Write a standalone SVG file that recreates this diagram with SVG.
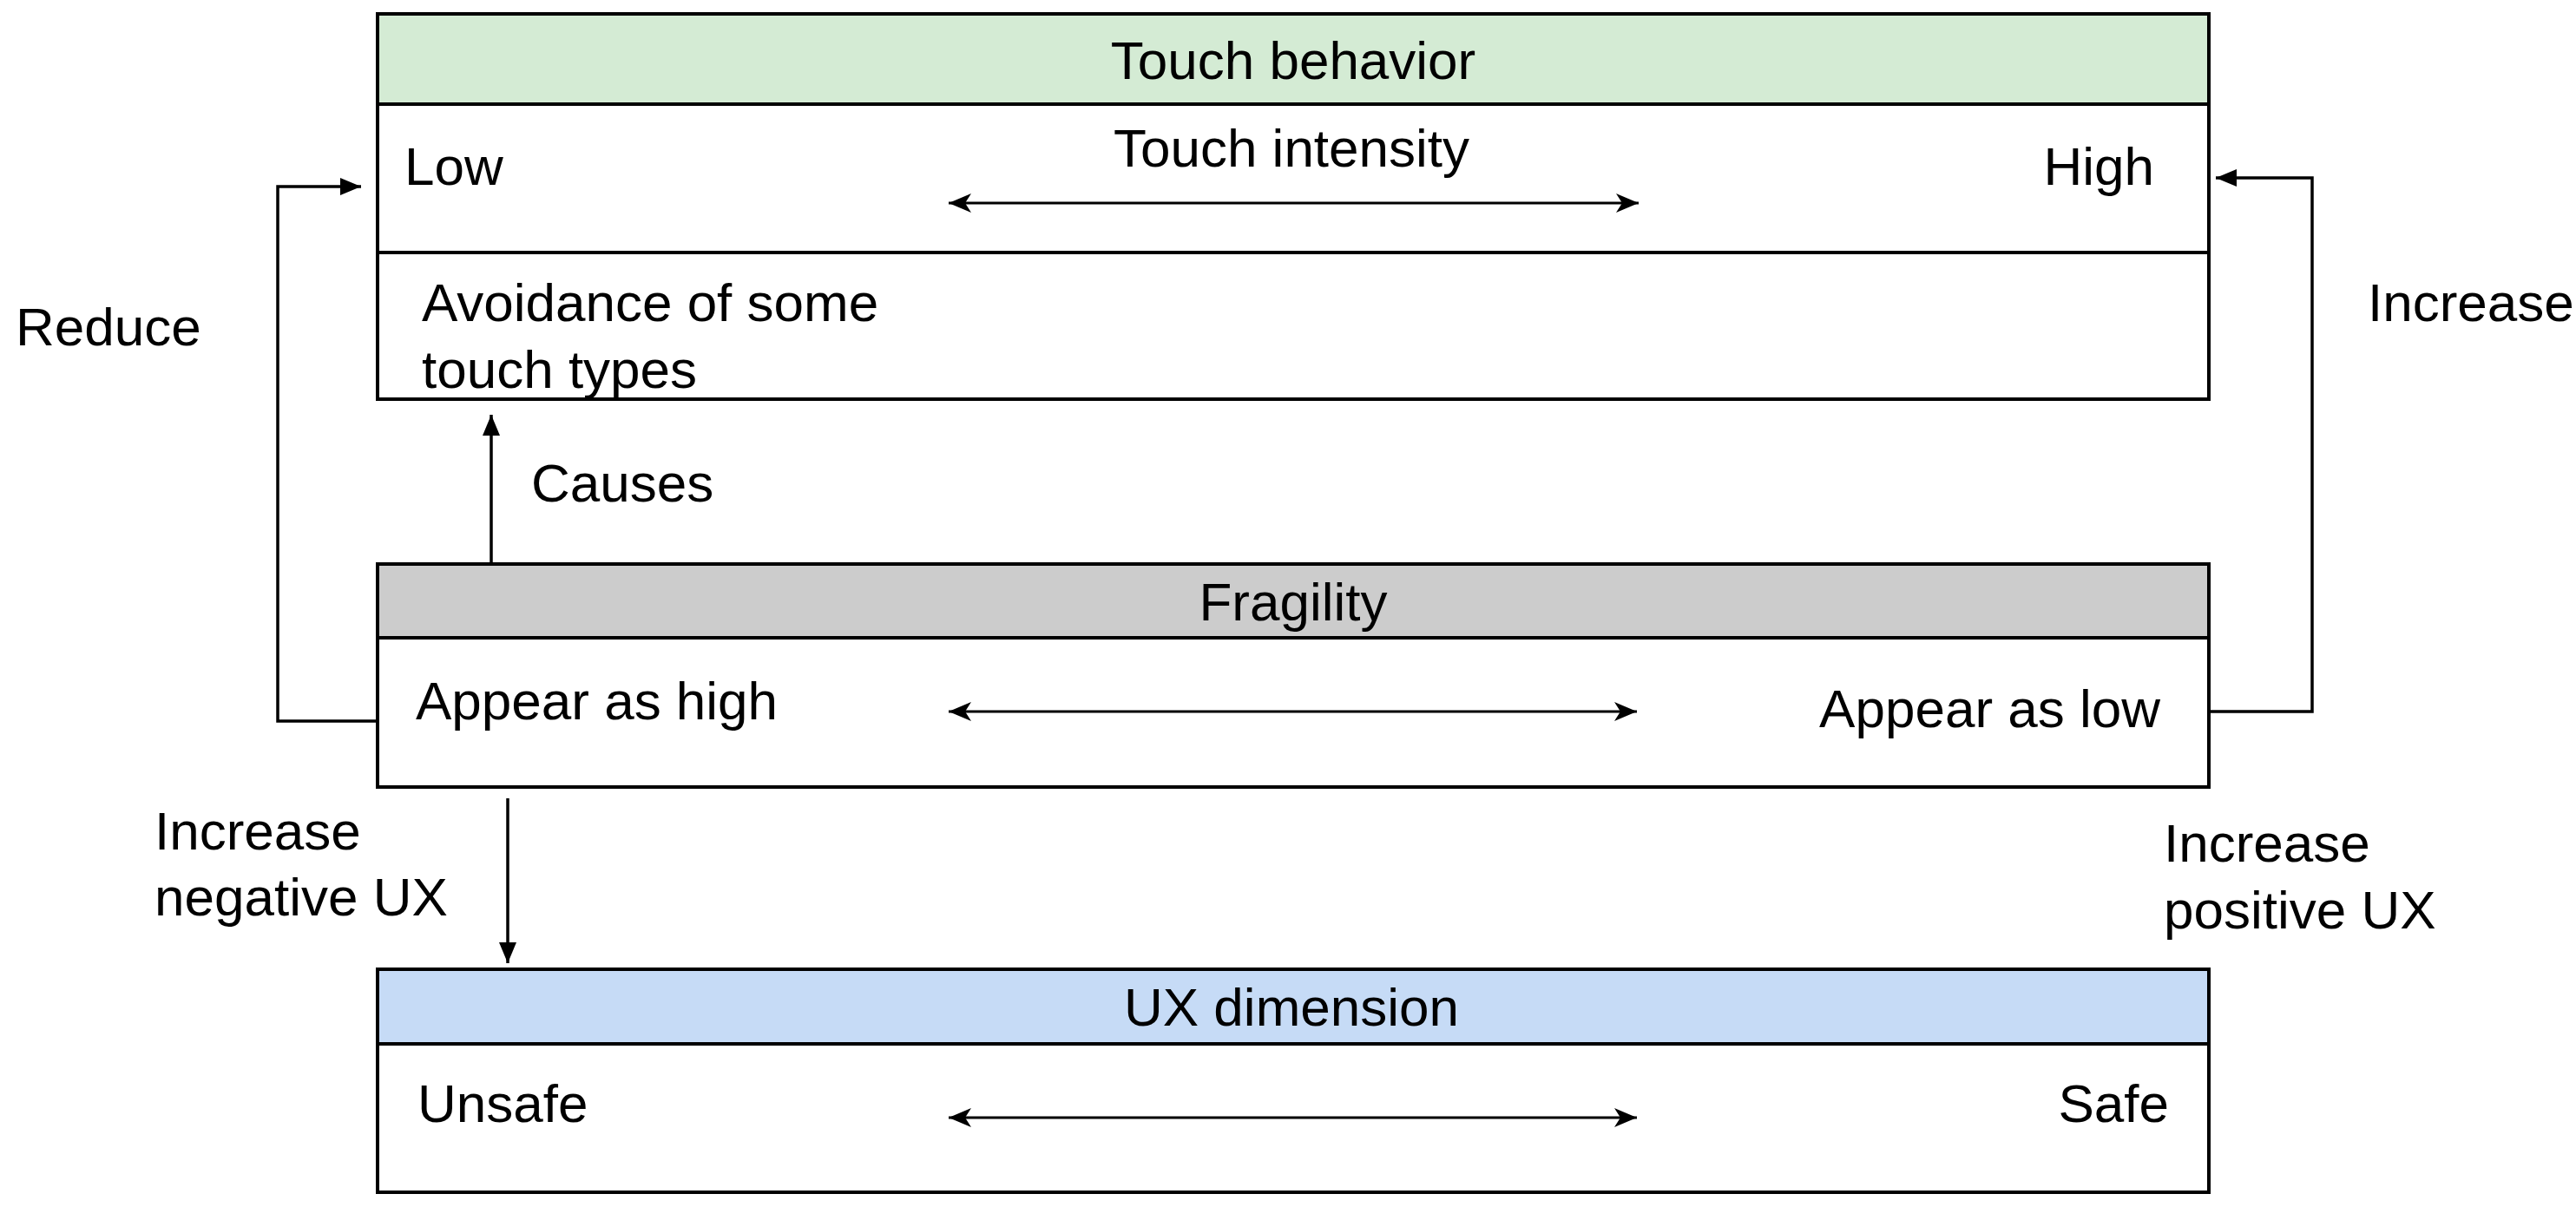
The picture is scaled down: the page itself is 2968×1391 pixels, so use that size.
<svg xmlns="http://www.w3.org/2000/svg" width="2968" height="1391" viewBox="0 0 2968 1391">
<style>
.t{font-family:"Liberation Sans",Arial,sans-serif;font-size:62px;fill:#000}
.box{fill:#fff;stroke:#000;stroke-width:4}
.hdr{stroke:#000;stroke-width:4}
.sep{stroke:#000;stroke-width:4}
.conn{fill:none;stroke:#000;stroke-width:3.5}
.scale{fill:none;stroke:#000;stroke-width:3}
</style>
<defs>
<marker id="tri" markerUnits="userSpaceOnUse" markerWidth="26" markerHeight="22" refX="24" refY="10" orient="auto">
<path d="M0,0 L24,10 L0,20 z" fill="#000"/>
</marker>
<marker id="stealth" markerUnits="userSpaceOnUse" markerWidth="28" markerHeight="24" refX="26" refY="11" orient="auto-start-reverse">
<path d="M0,0 L26,11 L0,22 L7,11 z" fill="#000"/>
</marker>
</defs>
<rect width="2968" height="1391" fill="#fff"/>

<g id="touch-behavior">
<rect class="box" x="435" y="16" width="2110" height="444"/>
<rect class="hdr" x="435" y="16" width="2110" height="104" fill="#d4ebd4"/>
<line class="sep" x1="435" y1="291" x2="2545" y2="291"/>
<text class="t" x="1490" y="91" text-anchor="middle">Touch behavior</text>
<text class="t" x="1488" y="192" text-anchor="middle">Touch intensity</text>
<text class="t" x="466" y="213">Low</text>
<text class="t" x="2482" y="213" text-anchor="end">High</text>
<text class="t" x="486" y="370">Avoidance of some</text>
<text class="t" x="486" y="447">touch types</text>
<line class="scale" x1="1093" y1="234" x2="1888" y2="234" marker-start="url(#stealth)" marker-end="url(#stealth)"/>
</g>

<g id="fragility">
<rect class="box" x="435" y="650" width="2110" height="257"/>
<rect class="hdr" x="435" y="650" width="2110" height="85" fill="#cccccc"/>
<text class="t" x="1490" y="715" text-anchor="middle">Fragility</text>
<text class="t" x="479" y="829">Appear as high</text>
<text class="t" x="2489" y="838" text-anchor="end">Appear as low</text>
<line class="scale" x1="1093" y1="820" x2="1886" y2="820" marker-start="url(#stealth)" marker-end="url(#stealth)"/>
</g>

<g id="ux-dimension">
<rect class="box" x="435" y="1117" width="2110" height="257"/>
<rect class="hdr" x="435" y="1117" width="2110" height="86" fill="#c6dbf6"/>
<text class="t" x="1488" y="1182" text-anchor="middle">UX dimension</text>
<text class="t" x="481" y="1293">Unsafe</text>
<text class="t" x="2499" y="1293" text-anchor="end">Safe</text>
<line class="scale" x1="1093" y1="1288" x2="1886" y2="1288" marker-start="url(#stealth)" marker-end="url(#stealth)"/>
</g>

<g id="connectors">
<polyline class="conn" points="435,831 320,831 320,215 416,215" marker-end="url(#tri)"/>
<polyline class="conn" points="2545,820 2664,820 2664,205 2553,205" marker-end="url(#tri)"/>
<line class="conn" x1="566" y1="650" x2="566" y2="478" marker-end="url(#tri)"/>
<line class="conn" x1="585" y1="920" x2="585" y2="1110" marker-end="url(#tri)"/>
</g>

<g id="labels">
<text class="t" x="18" y="398">Reduce</text>
<text class="t" x="2728" y="370">Increase</text>
<text class="t" x="612" y="578">Causes</text>
<text class="t" x="178" y="979">Increase</text>
<text class="t" x="178" y="1055">negative UX</text>
<text class="t" x="2493" y="993">Increase</text>
<text class="t" x="2493" y="1070">positive UX</text>
</g>
</svg>
